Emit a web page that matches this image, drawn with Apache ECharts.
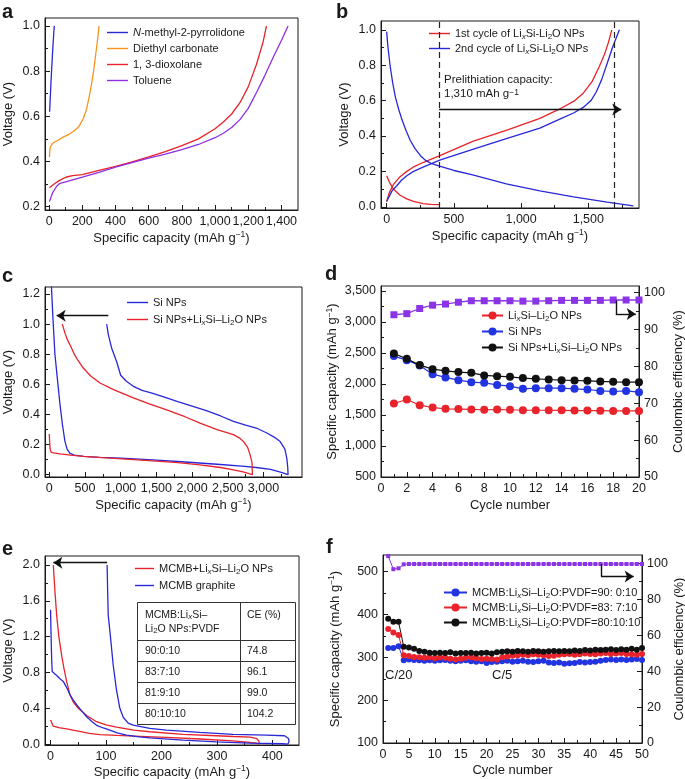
<!DOCTYPE html>
<html><head><meta charset="utf-8">
<script src="https://cdn.jsdelivr.net/npm/echarts@6/dist/echarts.min.js"></script>
<style>html,body{margin:0;padding:0;background:#fff}#c{width:685px;height:779px}</style>
</head><body><div id="c"></div>
<script>
// ---------------- DATA ----------------
// Panel a : voltage vs specific capacity
const aNMP  = [[3,0.62],[6,0.67],[11,0.75],[16,0.82],[22,0.9],[28,0.97],[31,1.0]];
const aDEC  = [[2,0.42],[4,0.45],[8,0.465],[16,0.475],[30,0.485],[56,0.495],[90,0.51],[120,0.52],[150,0.535],[180,0.555],[206,0.59],[225,0.63],[240,0.68],[255,0.74],[268,0.8],[280,0.87],[292,0.94],[301,1.0]];
const aDIOX = [[2,0.283],[30,0.3],[60,0.315],[100,0.33],[140,0.337],[200,0.342],[300,0.36],[400,0.378],[500,0.398],[600,0.42],[700,0.443],[800,0.47],[900,0.5],[1000,0.545],[1050,0.575],[1100,0.61],[1150,0.66],[1200,0.73],[1250,0.83],[1290,0.93],[1310,1.0]];
const aTOL  = [[2,0.222],[20,0.26],[45,0.29],[65,0.303],[100,0.31],[200,0.33],[300,0.352],[400,0.375],[500,0.395],[600,0.415],[700,0.432],[800,0.452],[900,0.475],[1000,0.505],[1050,0.525],[1100,0.55],[1150,0.585],[1200,0.635],[1250,0.705],[1300,0.78],[1350,0.86],[1400,0.935],[1440,1.0]];
const aXTicks = [0,200,400,600,800,1000,1200,1400];
const aXMinor = [100,300,500,700,900,1100,1300];
const aYTicks = [0.2,0.4,0.6,0.8,1.0];
const aYMinor = [0.3,0.5,0.7,0.9];

// Panel b
const b1Dis = [[0,0.175],[20,0.14],[50,0.1],[100,0.065],[150,0.045],[200,0.03],[270,0.018],[330,0.013],[395,0.012]];
const b1Chg = [[0,0.03],[20,0.08],[50,0.125],[100,0.17],[150,0.2],[200,0.225],[270,0.25],[400,0.29],[640,0.37],[900,0.435],[1140,0.5],[1280,0.55],[1400,0.6],[1460,0.64],[1530,0.71],[1580,0.79],[1620,0.86],[1650,0.93],[1675,1.0]];
const b2Dis = [[0,0.99],[10,0.9],[27,0.79],[45,0.7],[65,0.62],[90,0.55],[115,0.49],[145,0.43],[175,0.376],[210,0.33],[250,0.29],[290,0.262],[330,0.245],[400,0.228],[500,0.205],[640,0.18],[890,0.13],[1140,0.09],[1390,0.056],[1640,0.026],[1835,0.005]];
const b2Chg = [[0,0.03],[20,0.06],[40,0.09],[77,0.12],[110,0.15],[150,0.175],[200,0.2],[275,0.225],[400,0.265],[640,0.325],[890,0.385],[1140,0.445],[1300,0.5],[1390,0.53],[1460,0.56],[1520,0.6],[1560,0.65],[1600,0.72],[1640,0.81],[1680,0.9],[1731,1.0]];
const bDashX = [390, 1690];
const bArrow = [[390,0.55],[1745,0.55]];
const bXTicks = [0,500,1000,1500];
const bXMinor = [250,750,1250,1750];
const bYTicks = [0,0.2,0.4,0.6,0.8,1.0];
const bYMinor = [0.1,0.3,0.5,0.7,0.9];

// Panel c
const cSi = [[30,1.25],[50,1.05],[79,0.8],[115,0.63],[150,0.465],[185,0.33],[220,0.22],[250,0.17],[290,0.142],[350,0.13],[480,0.122],[700,0.115],[1000,0.11],[1200,0.105],[1500,0.097],[1800,0.088],[2100,0.078],[2400,0.068],[2700,0.057],[2900,0.048],[3100,0.035],[3250,0.015],[3345,0.0],
  [3340,0.05],[3327,0.11],[3300,0.17],[3234,0.22],[3150,0.25],[3047,0.277],[2900,0.31],[2750,0.33],[2579,0.354],[2400,0.39],[2200,0.425],[2000,0.455],[1800,0.485],[1645,0.51],[1450,0.54],[1300,0.56],[1178,0.587],[1080,0.62],[1000,0.66],[944,0.75],[874,0.84],[827,0.93],[804,1.0]];
const cSiLi = [[0,0.27],[5,0.22],[12,0.17],[25,0.15],[60,0.145],[150,0.138],[300,0.13],[480,0.122],[800,0.112],[1180,0.1],[1500,0.09],[1800,0.08],[2110,0.066],[2400,0.048],[2580,0.033],[2700,0.02],[2800,0.008],[2845,0.0],
  [2840,0.08],[2813,0.133],[2780,0.18],[2720,0.221],[2660,0.245],[2579,0.266],[2350,0.3],[2112,0.343],[1900,0.385],[1645,0.43],[1400,0.47],[1178,0.51],[900,0.565],[710,0.609],[580,0.655],[476,0.708],[400,0.76],[350,0.8],[290,0.863],[250,0.9],[220,0.94],[182,1.0]];
const cArrow = [[827,1.056],[103,1.056]];
const cXTicks = [0,500,1000,1500,2000,2500,3000];
const cXMinor = [250,750,1250,1750,2250,2750,3250];
const cYTicks = [0,0.2,0.4,0.6,0.8,1.0,1.2];
const cYMinor = [0.1,0.3,0.5,0.7,0.9,1.1];

// Panel d : cycling
const dCycles = [1,2,3,4,5,6,7,8,9,10,11,12,13,14,15,16,17,18,19,20];
const dLi   = [1686,1750,1658,1621,1599,1596,1590,1585,1589,1585,1577,1577,1577,1575,1572,1572,1570,1566,1566,1566];
const dSi   = [2450,2385,2300,2159,2106,2062,2030,2019,1986,1965,1922,1933,1933,1933,1922,1911,1889,1879,1889,1868];
const dMix  = [2493,2406,2305,2240,2213,2192,2181,2138,2127,2116,2095,2083,2073,2062,2057,2051,2041,2035,2030,2030];
const dCE   = [94.0,94.3,95.7,96.6,96.9,97.4,97.8,97.8,97.8,97.8,97.7,97.7,97.8,97.9,97.9,97.9,97.9,98.0,98.0,98.0];
const dArrow = [[18.2,97.9],[18.2,94.2],[19.75,94.2]];
const dXTicks = [0,2,4,6,8,10,12,14,16,18,20];
const dXMinor = [1,3,5,7,9,11,13,15,17,19];
const dYTicks = [500,1000,1500,2000,2500,3000,3500];
const dYMinor = [750,1250,1750,2250,2750,3250];
const dRTicks = [50,60,70,80,90,100];
const dRMinor = [55,65,75,85,95];

// Panel e
const eMix = [[0,0.27],[2,0.24],[5,0.2],[15,0.185],[29,0.17],[50,0.145],[70,0.12],[89,0.105],[120,0.097],[150,0.09],[209,0.075],[269,0.057],[329,0.036],[355,0.022],[371,0.01],[376,0],
  [376,0.03],[372,0.06],[360,0.078],[330,0.085],[299,0.093],[239,0.108],[179,0.138],[150,0.155],[119,0.19],[100,0.215],[83,0.25],[65,0.32],[50,0.4],[41,0.47],[35,0.55],[29,0.7],[24,0.85],[20,0.99],[15,1.2],[11,1.44],[8,1.7],[5,2.0]];
const eGra = [[0,1.5],[1,1.2],[2,0.95],[3,0.81],[6,0.79],[12,0.76],[17,0.73],[23,0.7],[26,0.68],[30,0.62],[35,0.55],[41,0.49],[47,0.44],[55,0.38],[65,0.305],[75,0.25],[83,0.21],[95,0.18],[107,0.156],[120,0.125],[137,0.1],[160,0.08],[179,0.07],[239,0.045],[299,0.026],[359,0.011],[419,0.004],[428,0],
  [430,0.03],[429,0.063],[422,0.093],[389,0.1],[329,0.108],[269,0.13],[209,0.156],[179,0.175],[149,0.212],[140,0.235],[137,0.25],[131,0.3],[125,0.4],[119,0.6],[113,0.88],[108,1.2],[104,1.44],[103,1.7],[102,2.0]];
const eArrow = [[102,2.026],[5,2.026]];
const eTableRatio = ['90:0:10','83:7:10','81:9:10','80:10:10'];
const eTableCE = ['74.8','96.1','99.0','104.2'];
const eXTicks = [0,100,200,300,400];
const eXMinor = [50,150,250,350];
const eYTicks = [0,0.4,0.8,1.2,1.6,2.0];
const eYMinor = [0.2,0.6,1.0,1.4,1.8];

// Panel f
const fCycles = [1,2,3,4,5,6,7,8,9,10,11,12,13,14,15,16,17,18,19,20,21,22,23,24,25,26,27,28,29,30,31,32,33,34,35,36,37,38,39,40,41,42,43,44,45,46,47,48,49,50];
const f90 = [322,322,326,293,295,294,293,292,293,292, 293,294,292,291,292,293,291,290,291,287, 289,290,291,292,290,291,292,290,289,291, 292,288,287,288,285,286,287,289,288,289, 290,292,294,295,294,295,294,295,296,294];
const f83 = [366,358,352,305,303,301,300,299,300,298, 300,299,297,295,297,299,300,298,296,297, 296,295,300,302,304,305,306,305,307,306, 305,303,304,306,307,308,306,307,309,308, 307,309,310,308,309,310,308,307,306,308];
const f80 = [390,383,383,325,323,320,315,313,311,310, 311,310,312,309,310,310,311,309,310,311, 309,312,313,314,313,315,314,313,315,314, 313,314,315,314,315,314,316,315,317,316, 318,317,318,319,317,319,318,320,318,322];
const fCE = [104,96.7,97.2,99.4,99.6,99.6,99.6,99.6,99.6,99.6, 99.6,99.6,99.6,99.6,99.6,99.6,99.6,99.6,99.6,99.6, 99.6,99.6,99.6,99.6,99.6,99.6,99.6,99.6,99.6,99.6, 99.6,99.6,99.6,99.6,99.6,99.6,99.6,99.6,99.6,99.6, 99.6,99.6,99.6,99.6,99.6,99.6,99.6,99.6,99.6,99.6];
const fArrow = [[42.1,99.6],[42.1,92.6],[48.4,92.6]];
const fXTicks = [0,5,10,15,20,25,30,35,40,45,50];
const fXMinor = [2.5,7.5,12.5,17.5,22.5,27.5,32.5,37.5,42.5,47.5];
const fYTicks = [100,200,300,400,500];
const fYMinor = [150,250,350,450];
const fRTicks = [0,20,40,60,80,100];
const fRMinor = [10,30,50,70,90];

// ---------------- STYLE ----------------
const FONT = '"Liberation Sans", Arial, Helvetica, sans-serif';
const INK = '#1a1a1a';
const COL = {blue:'#2828d8', red:'#e8232b', orange:'#f7941d', purple:'#8f2fe4', black:'#111111', dpurple:'#8a34e6'};
const RICH = {
  it:{fontStyle:'italic', fontSize:11, fontFamily:FONT},
  sub:{fontSize:8, verticalAlign:'bottom', lineHeight:10, fontFamily:FONT},
  subi:{fontSize:8, fontStyle:'italic', verticalAlign:'bottom', lineHeight:10, fontFamily:FONT},
  sup:{fontSize:8.5, verticalAlign:'top', lineHeight:10, fontFamily:FONT},
  t:{fontSize:13, fontFamily:FONT}
};
const nameStyle = {fontSize:13, fontFamily:FONT, color:INK, lineHeight:16, rich:RICH};
const commaFmt = v => Math.round(v).toLocaleString('en-US');
const dec1 = v => v.toFixed(1);
const intFmt = v => String(Math.round(v));
const CAP = '{t|Specific capacity (mAh g}{sup|−1}{t|)}';

const xAxes = [], yAxes = [];
function mkAxis(list, grid, pos, min, max, major, minor, fmt, name, gap) {
  const base = {type:'value', gridIndex:grid, min:min, max:max, position:pos, splitLine:{show:false}};
  list.push(Object.assign({}, base, {
    axisLine:{show:true, onZero:false, lineStyle:{color:INK, width:1}},
    axisTick:{show:true, inside:true, length:5, customValues:major, lineStyle:{color:INK, width:1}},
    axisLabel:{show:true, customValues:major, formatter:fmt, color:INK, fontSize:12.5, fontFamily:FONT, margin:5},
    name:name, nameLocation:'middle', nameGap:gap, nameRotate:(pos==='left'||pos==='right')?90:0, nameTextStyle:nameStyle
  }));
  list.push(Object.assign({}, base, {
    axisLine:{show:false, onZero:false}, axisLabel:{show:false},
    axisTick:{show:true, inside:true, length:3, customValues:minor, lineStyle:{color:INK, width:1}}
  }));
  return list.length - 2;
}
// a
const axA = mkAxis(xAxes,0,'bottom',-25,1500,aXTicks,aXMinor,commaFmt,CAP,20);
const ayA = mkAxis(yAxes,0,'left',0.185,1.035,aYTicks,aYMinor,dec1,'Voltage (V)',29);
// b
const axB = mkAxis(xAxes,1,'bottom',-42,1877,bXTicks,bXMinor,commaFmt,CAP,20);
const ayB = mkAxis(yAxes,1,'left',-0.007,1.05,bYTicks,bYMinor,dec1,'Voltage (V)',29);
// c
const axC = mkAxis(xAxes,2,'bottom',-60,3540,cXTicks,cXMinor,commaFmt,CAP,20);
const ayC = mkAxis(yAxes,2,'left',-0.015,1.246,cYTicks,cYMinor,dec1,'Voltage (V)',29);
// d
const axD = mkAxis(xAxes,3,'bottom',0,20,dXTicks,dXMinor,intFmt,'Cycle number',20);
const ayD = mkAxis(yAxes,3,'left',500,3581,dYTicks,dYMinor,commaFmt,CAP,40);
const ayD2 = mkAxis(yAxes,3,'right',50,101.8,dRTicks,dRMinor,intFmt,'Coulombic efficiency (%)',31);
// e
const axE = mkAxis(xAxes,4,'bottom',-10,448,eXTicks,eXMinor,intFmt,CAP,19);
const ayE = mkAxis(yAxes,4,'left',-0.01,2.1,eYTicks,eYMinor,dec1,'Voltage (V)',29);
// f
const axF = mkAxis(xAxes,5,'bottom',0,50,fXTicks,fXMinor,intFmt,'Cycle number',19);
const ayF = mkAxis(yAxes,5,'left',100,539,fYTicks,fYMinor,intFmt,CAP,40);
const ayF2 = mkAxis(yAxes,5,'right',0,104.6,fRTicks,fRMinor,intFmt,'Coulombic efficiency (%)',29);

function curve(name, data, xi, yi, color, extra) {
  return Object.assign({type:'line', name:name, data:data, xAxisIndex:xi, yAxisIndex:yi,
    symbol:'none', smooth:false, lineStyle:{color:color, width:1.3}, itemStyle:{color:color}, z:3}, extra||{});
}
function pts(xs, ys) { return xs.map((x,i)=>[x, ys[i]]); }
function dots(name, xs, ys, xi, yi, color, sym, size, w) {
  return {type:'line', name:name, data:pts(xs,ys), xAxisIndex:xi, yAxisIndex:yi, symbol:sym, symbolSize:size,
    showSymbol:true, lineStyle:{color:color, width:w}, itemStyle:{color:color, borderWidth:0}, z:3};
}
function arrowLine(segs, arrowLast) {
  const data = [];
  for (let i=0;i<segs.length-1;i++) {
    const last = (i===segs.length-2);
    data.push([{coord:segs[i], symbol:'none'}, {coord:segs[i+1], symbol:(last&&arrowLast)?'arrow':'none', symbolSize:9}]);
  }
  return {silent:true, animation:false, symbol:['none','none'], label:{show:false}, emphasis:{disabled:true},
    lineStyle:{color:'#111', width:1.4, type:'solid'}, data:data};
}

const series = [
  curve('a1', aNMP, axA, ayA, COL.blue),
  curve('a2', aDEC, axA, ayA, COL.orange),
  curve('a3', aDIOX, axA, ayA, COL.red),
  curve('a4', aTOL, axA, ayA, COL.purple),

  curve('b1', b1Dis, axB, ayB, COL.red, {markLine:{silent:true, animation:false, symbol:['none','none'], label:{show:false},
     lineStyle:{color:'#222', width:1.2, type:[6,4]}, data:bDashX.map(v=>({xAxis:v}))}}),
  curve('b1', b1Chg, axB, ayB, COL.red),
  curve('b2', b2Dis, axB, ayB, COL.blue, {markLine:arrowLine(bArrow,true)}),
  curve('b2', b2Chg, axB, ayB, COL.blue),

  curve('c1', cSi, axC, ayC, COL.blue, {markLine:arrowLine(cArrow,true)}),
  curve('c2', cSiLi, axC, ayC, COL.red),

  dots('dCE', dCycles, dCE, axD, ayD2, COL.dpurple, 'rect', 7, 1.3),
  dots('d1', dCycles, dLi, axD, ayD, COL.red, 'circle', 8, 1.2),
  dots('d2', dCycles, dSi, axD, ayD, '#2233e0', 'circle', 8, 1.2),
  dots('d3', dCycles, dMix, axD, ayD, COL.black, 'circle', 8, 1.2),

  curve('e1', eMix, axE, ayE, COL.red, {markLine:arrowLine(eArrow,true)}),
  curve('e2', eGra, axE, ayE, COL.blue),

  dots('fCE', fCycles, fCE, axF, ayF2, COL.dpurple, 'rect', 4, 1),
  dots('f1', fCycles, f90, axF, ayF, '#2233e0', 'circle', 6, 1),
  dots('f2', fCycles, f83, axF, ayF, COL.red, 'circle', 6, 1),
  dots('f3', fCycles, f80, axF, ayF, COL.black, 'circle', 6, 1)
];
series[10].markLine = arrowLine(dArrow,true);
series[16].markLine = arrowLine(fArrow,true);

const LI = 'Li{subi|x}Si–Li{sub|2}O';
const LEG = {
  a1:'{it|N}-methyl-2-pyrrolidone', a2:'Diethyl carbonate', a3:'1, 3-dioxolane', a4:'Toluene',
  b1:'1st cycle of Li{subi|x}Si-Li{sub|2}O NPs', b2:'2nd cycle of Li{subi|x}Si-Li{sub|2}O NPs',
  c1:'Si NPs', c2:'Si NPs+'+LI+' NPs',
  d1:LI+' NPs', d2:'Si NPs', d3:'Si NPs+'+LI+' NPs',
  e1:'MCMB+'+LI+' NPs', e2:'MCMB graphite',
  f1:'MCMB:'+LI+':PVDF=90: 0:10', f2:'MCMB:'+LI+':PVDF=83: 7:10', f3:'MCMB:'+LI+':PVDF=80:10:10'
};
function legend(names, left, top, iw, gap, plain) {
  const l = {show:true, orient:'vertical', left:left, top:top, padding:0, itemWidth:iw, itemHeight:plain?1.4:10, itemGap:gap,
    selectedMode:false, data:names, formatter:n=>LEG[n],
    textStyle:{fontSize:11, fontFamily:FONT, color:INK, lineHeight:15, rich:RICH}};
  if (plain) l.icon = 'rect';
  return l;
}
const legends = [
  legend(['a1','a2','a3','a4'], 107, 25, 21, 1, true),
  legend(['b1','b2'], 429, 26, 21, 0, true),
  legend(['c1','c2'], 127, 295, 21, 2, true),
  legend(['d1','d2','d3'], 481, 308, 21, 1, false),
  legend(['e1','e2'], 135, 561, 19, 2, true),
  legend(['f1','f2','f3'], 443, 585, 23, 0, false)
];

function txt(x, y, s, size, weight, align) {
  return {type:'text', x:x, y:y, z:100, silent:true, style:{text:s, fontSize:size, fontFamily:FONT, fontWeight:weight||'normal',
    fill:INK, align:align||'left', textAlign:align||'left', verticalAlign:'middle', textVerticalAlign:'middle', rich:RICH}};
}
function hl(x1,y,x2){return {type:'line', z:100, silent:true, shape:{x1:x1,y1:y,x2:x2,y2:y}, style:{stroke:'#333', lineWidth:1}};}
function vl(x,y1,y2){return {type:'line', z:100, silent:true, shape:{x1:x,y1:y1,x2:x,y2:y2}, style:{stroke:'#333', lineWidth:1}};}

const TBL = {x0:137.5, x1:295.5, xc:240.5, y0:602.5, yh:640.5, rows:[661.5,682.5,703.5], y1:724.5};
const graphic = [
  txt(2,12,'a',20,'bold'), txt(336,12,'b',20,'bold'),
  txt(2,276,'c',20,'bold'), txt(325,274,'d',20,'bold'),
  txt(2,549,'e',20,'bold'), txt(326,547,'f',20,'bold'),
  txt(444,80,'Prelithiation capacity:',11.5), txt(444,94,'1,310 mAh g{sup|−1}',11.5),
  txt(385,675,'C/20',13), txt(492,675,'C/5',13),
  {type:'rect', z:99, silent:true, shape:{x:TBL.x0, y:TBL.y0, width:TBL.x1-TBL.x0, height:TBL.y1-TBL.y0}, style:{fill:'#fff', stroke:'#333', lineWidth:1}},
  vl(TBL.xc, TBL.y0, TBL.y1), hl(TBL.x0, TBL.yh, TBL.x1)
].concat(TBL.rows.map(y=>hl(TBL.x0,y,TBL.x1)))
 .concat([txt(145,615,'MCMB:Li{subi|x}Si–',10.5), txt(145,629,'Li{sub|2}O NPs:PVDF',10.5), txt(247,615,'CE (%)',10.5)])
 .concat(eTableRatio.map((r,i)=>txt(145, [651,672,693,714][i], r, 10.5)))
 .concat(eTableCE.map((r,i)=>txt(247, [651,672,693,714][i], r, 10.5)));

const gridBase = {show:true, borderColor:INK, borderWidth:1, backgroundColor:'transparent', containLabel:false, outerBoundsMode:'none'};
const option = {
  animation:false,
  backgroundColor:'#fff',
  textStyle:{fontFamily:FONT},
  grid:[
    Object.assign({left:45, top:18, width:253, height:192}, gridBase),
    Object.assign({left:381, top:21, width:258, height:187}, gridBase),
    Object.assign({left:45, top:287, width:257, height:190}, gridBase),
    Object.assign({left:381, top:286, width:258, height:191}, gridBase),
    Object.assign({left:45, top:556, width:254, height:189}, gridBase),
    Object.assign({left:383, top:555, width:259, height:188}, gridBase)
  ],
  xAxis:xAxes, yAxis:yAxes, series:series, legend:legends, graphic:graphic
};
const chart = echarts.init(document.getElementById('c'), null, {renderer:'canvas'});
chart.setOption(option);
</script></body></html>
